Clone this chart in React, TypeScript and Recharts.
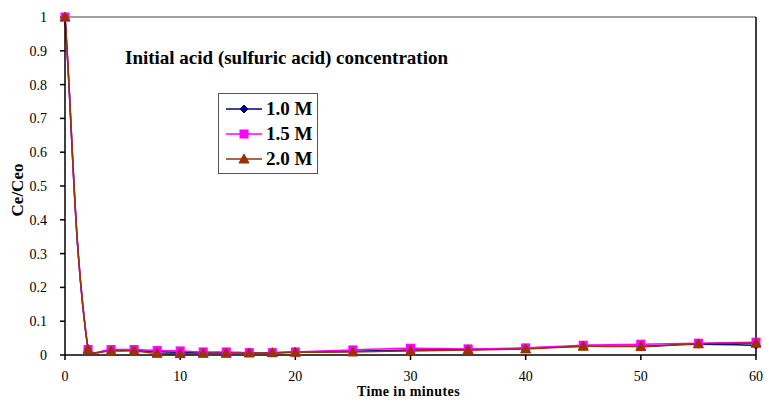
import { LineChart, Line, XAxis, YAxis, ReferenceLine, Legend } from 'recharts'

const times = [0, 2, 4, 6, 8, 10, 12, 14, 16, 18, 20, 25, 30, 35, 40, 45, 50, 55, 60]
const m10 = [1, 0.015, 0.014, 0.013, 0.01, 0.008, 0.007, 0.007, 0.006, 0.006, 0.008, 0.011, 0.015, 0.016, 0.02, 0.026, 0.026, 0.032, 0.029]
const m15 = [1, 0.016, 0.016, 0.016, 0.013, 0.012, 0.009, 0.009, 0.007, 0.007, 0.009, 0.015, 0.02, 0.018, 0.021, 0.029, 0.032, 0.035, 0.038]
const m20 = [1, 0.017, 0.012, 0.012, 0.005, 0.004, 0.005, 0.005, 0.006, 0.007, 0.008, 0.009, 0.012, 0.015, 0.018, 0.026, 0.025, 0.033, 0.035]
const xTicks = [0, 10, 20, 30, 40, 50, 60]
const yTicks = [0, 0.1, 0.2, 0.3, 0.4, 0.5, 0.6, 0.7, 0.8, 0.9, 1]
const seriesNames = ['1.0 M', '1.5 M', '2.0 M']

const data = times.map((t, i) => ({ t, a: m10[i], b: m15[i], c: m20[i] }))

const FONT = '"Liberation Serif", "Times New Roman", serif'
const NAVY = '#000080'
const MAGENTA = '#FF00FF'
const BROWN = '#993300'

// excel-ish smoothed line: catmull-rom tangents scaled by segment lengths
function excelSmooth(context: any) {
  let pts: number[][] = []
  return {
    areaStart() {},
    areaEnd() {},
    lineStart() {
      pts = []
    },
    lineEnd() {
      const n = pts.length
      if (!n) return
      context.moveTo(pts[0][0], pts[0][1])
      const dist = (p: number[], q: number[]) => Math.hypot(q[0] - p[0], q[1] - p[1])
      for (let i = 0; i < n - 1; i++) {
        const p1 = pts[i]
        const p2 = pts[i + 1]
        const p0 = pts[i - 1] || p1
        const p3 = pts[i + 2] || p2
        const d01 = dist(p0, p1)
        const d12 = dist(p1, p2)
        const d23 = dist(p2, p3)
        const f1 = d01 + d12 > 0 ? d12 / (d01 + d12) / 3 : 0
        const f2 = d12 + d23 > 0 ? d12 / (d12 + d23) / 3 : 0
        context.bezierCurveTo(
          p1[0] + (p2[0] - p0[0]) * f1,
          p1[1] + (p2[1] - p0[1]) * f1,
          p2[0] - (p3[0] - p1[0]) * f2,
          p2[1] - (p3[1] - p1[1]) * f2,
          p2[0],
          p2[1],
        )
      }
    },
    point(x: number, y: number) {
      pts.push([+x, +y])
    },
  }
}

const diamond = (cx: number, cy: number, color: string, key?: any) => (
  <path key={key} d={`M${cx},${cy - 4}L${cx + 4},${cy}L${cx},${cy + 4}L${cx - 4},${cy}Z`} fill={color} stroke={color} />
)
const square = (cx: number, cy: number, color: string, key?: any) => (
  <rect key={key} x={cx - 4} y={cy - 4} width={8} height={8} fill={color} stroke={color} />
)
const triangle = (cx: number, cy: number, color: string, key?: any) => (
  <path key={key} d={`M${cx},${cy - 5}L${cx + 5},${cy + 4}L${cx - 5},${cy + 4}Z`} fill={color} stroke={color} />
)

const markers = [
  { color: NAVY, draw: diamond },
  { color: MAGENTA, draw: square },
  { color: BROWN, draw: triangle },
]

function LegendBox() {
  return (
    <div style={{ border: '1px solid #555', background: '#fff', padding: '2px 5px 2px 7px', fontFamily: FONT }}>
      {seriesNames.map((name, i) => (
        <div key={name} style={{ display: 'flex', alignItems: 'center', height: 25 }}>
          <svg width={36} height={14}>
            <line x1={0} y1={7} x2={36} y2={7} stroke={markers[i].color} strokeWidth={1.5} />
            {markers[i].draw(18, 7, markers[i].color)}
          </svg>
          <span style={{ fontWeight: 'bold', fontSize: 19, marginLeft: 4, color: '#000', lineHeight: '25px' }}>{name}</span>
        </div>
      ))}
    </div>
  )
}

export default function App() {
  const tickStyle = { fontSize: 14, fontFamily: FONT, fill: '#000' }
  return (
    <div style={{ position: 'absolute', left: 0, top: 0, width: 766, height: 400, background: '#fff', fontFamily: FONT }}>
      <LineChart width={766} height={400} data={data} margin={{ top: 17, right: 10, left: 20, bottom: 0 }}>
        <XAxis
          dataKey="t"
          type="number"
          domain={[0, 60]}
          ticks={xTicks}
          tick={tickStyle}
          tickSize={5}
          tickMargin={11}
          height={45}
          stroke="#000"
          strokeWidth={1.5}
        />
        <YAxis
          type="number"
          domain={[0, 1]}
          ticks={yTicks}
          tick={tickStyle}
          tickSize={5}
          tickMargin={13}
          width={45}
          stroke="#000"
          strokeWidth={1.5}
        />
        <ReferenceLine y={1} stroke="#808080" strokeWidth={1.5} />
        <ReferenceLine x={60} stroke="#000" strokeWidth={1.5} />
        <Legend
          layout="vertical"
          align="center"
          verticalAlign="middle"
          wrapperStyle={{ left: 218, top: 93, width: 'auto' }}
          content={() => <LegendBox />}
        />
        {(['a', 'b', 'c'] as const).map((k, i) => (
          <Line
            key={k}
            dataKey={k}
            type={excelSmooth as any}
            stroke={markers[i].color}
            strokeWidth={1.5}
            isAnimationActive={false}
            dot={(p: any) => markers[i].draw(p.cx, p.cy, markers[i].color, `${k}-${p.index}`)}
            activeDot={false}
          />
        ))}
      </LineChart>
      <div
        style={{
          position: 'absolute',
          left: 357,
          top: 385,
          fontSize: 14,
          lineHeight: '14px',
          letterSpacing: 0.4,
          fontWeight: 'bold',
          whiteSpace: 'nowrap',
        }}
      >
        Time in minutes
      </div>
      <div style={{ position: 'absolute', left: 125, top: 47, fontSize: 19, lineHeight: '22px', fontWeight: 'bold', whiteSpace: 'nowrap' }}>
        Initial acid (sulfuric acid) concentration
      </div>
      <div
        style={{
          position: 'absolute',
          left: 17,
          top: 190,
          fontSize: 17,
          lineHeight: '19px',
          fontWeight: 'bold',
          whiteSpace: 'nowrap',
          transform: 'translate(-50%, -50%) rotate(-90deg)',
        }}
      >
        Ce/Ceo
      </div>
    </div>
  )
}
